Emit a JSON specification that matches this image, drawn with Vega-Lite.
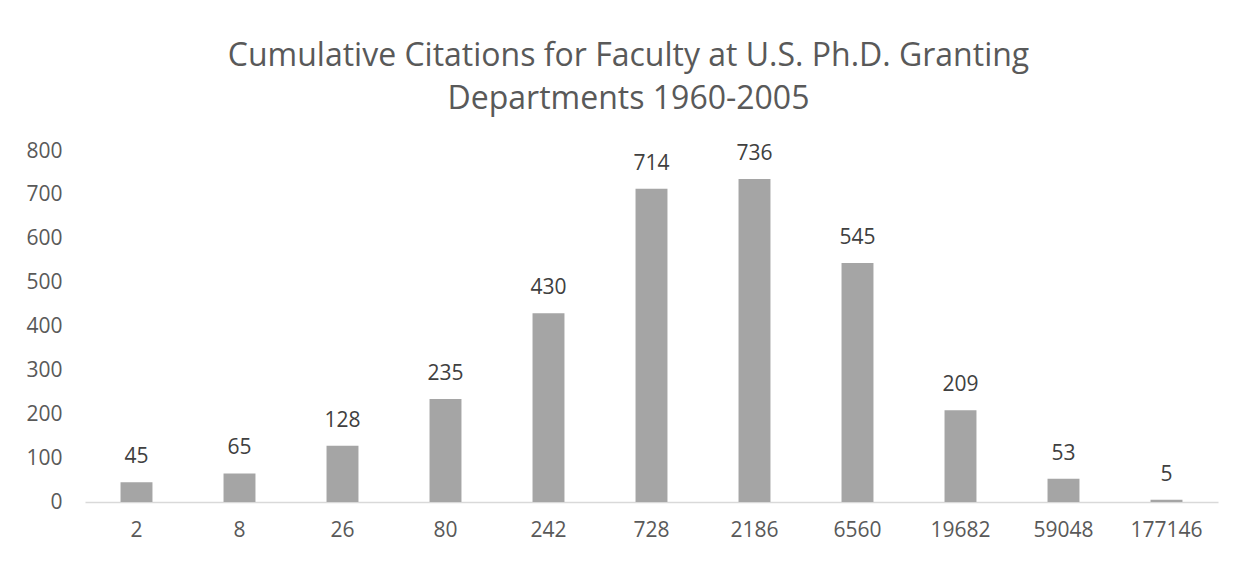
{
  "$schema": "https://vega.github.io/schema/vega-lite/v6.json",
  "autosize": "none",
  "width": 1133,
  "height": 351,
  "padding": {"left": 85, "top": 151, "right": 18, "bottom": 60},
  "background": "white",
  "config": {
    "view": {"stroke": null},
    "font": "Open Sans"
  },
  "title": {
    "text": ["Cumulative Citations for Faculty at U.S. Ph.D. Granting", "Departments 1960-2005"],
    "font": "Open Sans",
    "fontSize": 32,
    "fontWeight": "normal",
    "color": "#595959",
    "lineHeight": 43,
    "offset": 24,
    "dx": -23,
    "anchor": "middle"
  },
  "data": {
    "values": [
      {"citations": "2", "faculty": 45},
      {"citations": "8", "faculty": 65},
      {"citations": "26", "faculty": 128},
      {"citations": "80", "faculty": 235},
      {"citations": "242", "faculty": 430},
      {"citations": "728", "faculty": 714},
      {"citations": "2186", "faculty": 736},
      {"citations": "6560", "faculty": 545},
      {"citations": "19682", "faculty": 209},
      {"citations": "59048", "faculty": 53},
      {"citations": "177146", "faculty": 5}
    ]
  },
  "encoding": {
    "x": {
      "field": "citations",
      "type": "nominal",
      "sort": null,
      "scale": {"paddingInner": 0.69, "paddingOuter": 0.345},
      "axis": {
        "title": null,
        "labelAngle": 0,
        "labelFont": "Open Sans",
        "labelFontSize": 21,
        "labelColor": "#595959",
        "labelPadding": 17,
        "ticks": false,
        "domainColor": "#D9D9D9",
        "domainWidth": 1.5,
        "grid": false
      }
    },
    "y": {
      "field": "faculty",
      "type": "quantitative",
      "scale": {"domain": [0, 800], "nice": false},
      "axis": {
        "title": null,
        "values": [0, 100, 200, 300, 400, 500, 600, 700, 800],
        "labelFont": "Open Sans",
        "labelFontSize": 21,
        "labelColor": "#595959",
        "labelPadding": 23,
        "ticks": false,
        "domain": false,
        "grid": false
      }
    }
  },
  "layer": [
    {"mark": {"type": "bar", "color": "#A5A5A5"}},
    {
      "mark": {"type": "text", "baseline": "alphabetic", "dy": -19, "font": "Open Sans", "fontSize": 21, "color": "#404040"},
      "encoding": {"text": {"field": "faculty", "type": "quantitative"}}
    }
  ]
}
